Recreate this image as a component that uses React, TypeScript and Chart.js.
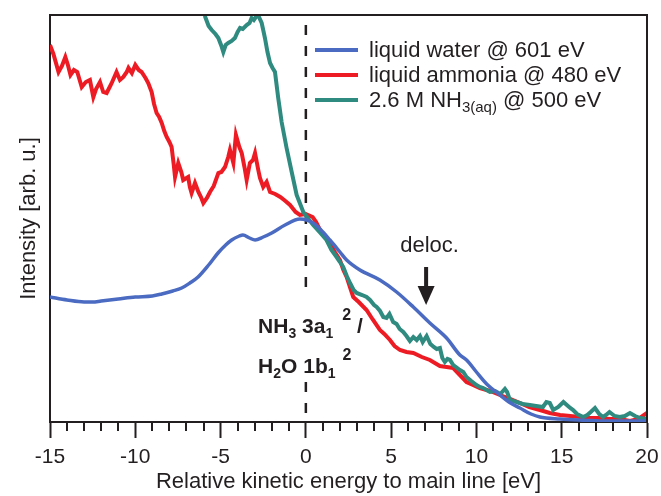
import React, { useEffect, useRef } from 'react';
import { Chart, registerables } from 'chart.js';

Chart.register(...registerables);

const FAMILY = "'Liberation Sans', Arial, Helvetica, sans-serif";
const INK = '#231f20';
const BLUE = '#4a6bc1';
const RED = '#ed1c24';
const TEAL = '#2f8a80';

// liquid water @ 601 eV
const waterX = [-15, -14, -13, -12.5, -12, -11, -10, -9, -8.45, -7.8, -7.28, -6.8, -6.32, -5.7, -5.15, -4.7, -4.35, -3.9, -3.69, -3.3, -2.98, -2.5, -2.0, -1.22, -0.35, 0.43, 1.0, 1.41, 2.0, 2.39, 3.17, 4.34, 5.32, 6.3, 7.27, 8.25, 9.03, 9.42, 10.0, 10.6, 11.38, 12.0, 12.55, 13.2, 13.72, 14.9, 16, 18, 20];
const waterY = [125, 122, 120, 120, 121, 123, 125, 126, 128, 131, 134, 139, 145, 157, 169, 177, 182, 186, 187, 184, 182, 185, 189, 197, 203, 199, 190, 182, 170, 162, 152, 142, 130, 115, 99, 84, 67, 62, 50, 38, 27, 19, 14, 8, 5, 3, 2, 1, 1];

// liquid ammonia @ 480 eV
const ammoniaX = [-15, -14.8, -14.5, -14.3, -14.1, -13.95, -13.8, -13.6, -13.4, -13.14, -12.9, -12.66, -12.46, -12.3, -12.07, -11.88, -11.68, -11.5, -11.38, -11.1, -10.9, -10.7, -10.5, -10.4, -10.2, -10.0, -9.8, -9.63, -9.4, -9.24, -9.04, -8.9, -8.75, -8.6, -8.45, -8.3, -8.16, -8.0, -7.87, -7.75, -7.67, -7.48, -7.3, -7.19, -6.9, -6.8, -6.7, -6.5, -6.3, -6.15, -6.01, -5.8, -5.62, -5.4, -5.13, -4.95, -4.74, -4.55, -4.45, -4.25, -4.1, -3.9, -3.76, -3.6, -3.47, -3.28, -3.1, -2.98, -2.79, -2.69, -2.5, -2.3, -2.1, -1.8, -1.5, -1.2, -0.93, -0.6, -0.35, 0.0, 0.4, 0.6, 0.83, 1.1, 1.41, 1.7, 2.0, 2.2, 2.39, 2.6, 2.78, 3.1, 3.56, 3.9, 4.34, 4.6, 4.93, 5.2, 5.52, 5.9, 6.3, 6.8, 7.27, 7.86, 8.25, 8.64, 9.03, 9.42, 9.8, 10.2, 10.8, 11.38, 12.0, 12.55, 13.1, 13.72, 14.3, 14.9, 15.5, 16.07, 16.6, 17.24, 17.8, 18.4, 19.0, 19.5, 20.0];
const ammoniaY = [377, 368, 350, 356, 365, 357, 347, 352, 350, 335, 340, 342, 325, 333, 340, 330, 329, 335, 339, 350, 342, 345, 350, 354, 349, 357, 352, 350, 344, 339, 330, 318, 309, 305, 299, 291, 285, 280, 275, 258, 245, 259, 250, 242, 245, 235, 229, 239, 230, 225, 219, 224, 230, 236, 249, 250, 255, 265, 272, 259, 287, 275, 269, 255, 242, 259, 262, 269, 252, 244, 235, 240, 230, 228, 225, 221, 217, 210, 207, 208, 205, 200, 192, 186, 179, 170, 162, 152, 145, 134, 125, 120, 112, 103, 92, 88, 82, 76, 72, 70, 69, 65, 62, 56, 55, 54, 47, 40, 37, 34, 31, 27, 23, 19, 15, 12, 9, 7, 6, 5, 4, 4, 3, 3, 1, 3, 9];

// 2.6 M NH3(aq) @ 500 eV
const aqX = [-6.0, -5.9, -5.7, -5.52, -5.3, -5.13, -4.95, -4.84, -4.7, -4.55, -4.35, -4.16, -4.0, -3.86, -3.7, -3.47, -3.3, -3.18, -3.05, -2.89, -2.75, -2.59, -2.5, -2.4, -2.25, -2.1, -1.95, -1.81, -1.62, -1.42, -1.13, -0.83, -0.54, -0.15, 0.2, 0.43, 0.8, 1.21, 1.5, 1.8, 2.0, 2.19, 2.4, 2.59, 2.8, 2.98, 3.3, 3.56, 3.76, 4.0, 4.15, 4.35, 4.54, 4.73, 4.9, 5.12, 5.32, 5.5, 5.71, 5.9, 6.1, 6.3, 6.5, 6.69, 6.85, 7.08, 7.3, 7.5, 7.67, 7.86, 8.0, 8.15, 8.3, 8.45, 8.64, 8.8, 9.03, 9.23, 9.42, 9.7, 10.0, 10.2, 10.4, 10.79, 11.1, 11.4, 11.67, 11.8, 11.96, 12.36, 12.7, 13.13, 13.5, 13.9, 14.1, 14.3, 14.5, 14.8, 15.1, 15.3, 15.5, 15.67, 15.9, 16.26, 16.5, 16.7, 16.95, 17.2, 17.43, 17.6, 17.8, 18.1, 18.4, 18.7, 19.0, 19.3, 19.6, 20.0];
const aqY = [420, 405, 396, 392, 388, 384, 376, 370, 377, 379, 381, 384, 390, 394, 393, 397, 399, 404, 402, 406, 405, 399, 392, 384, 370, 359, 354, 350, 324, 300, 274, 250, 227, 210, 202, 197, 190, 182, 172, 165, 160, 155, 146, 139, 132, 129, 127, 125, 122, 117, 115, 111, 105, 104, 108, 100, 98, 93, 90, 86, 81, 85, 82, 86, 80, 86, 78, 75, 73, 74, 64, 60, 63, 62, 57, 55, 52, 50, 45, 41, 37, 35, 34, 30, 31, 28, 33, 30, 22, 20, 18, 17, 16, 15, 20, 19, 12, 15, 20, 17, 14, 12, 8, 5, 7, 10, 14, 8, 5, 7, 10, 6, 5, 6, 9, 6, 4, 3];

const X_MIN = -15;
const X_MAX = 20;
const MAJOR_STEP = 5;
const Y_MAX = 407;

const pts = (xs: number[], ys: number[]) => xs.map((x, i) => ({ x, y: ys[i] }));

type Seg = { t: string; size: number; dy?: number; dx?: number; bold?: boolean };

function drawRich(ctx: CanvasRenderingContext2D, x: number, y: number, segs: Seg[]) {
  let cx = x;
  for (const s of segs) {
    cx += s.dx ?? 0;
    ctx.font = `${s.bold ? 'bold ' : ''}${s.size}px ${FAMILY}`;
    ctx.fillText(s.t, cx, y + (s.dy ?? 0));
    cx += ctx.measureText(s.t).width;
  }
}

const legendItems: { color: string; segs: Seg[] }[] = [
  { color: BLUE, segs: [{ t: 'liquid water @ 601 eV', size: 22 }] },
  { color: RED, segs: [{ t: 'liquid ammonia @ 480 eV', size: 22 }] },
  {
    color: TEAL,
    segs: [
      { t: '2.6 M NH', size: 22 },
      { t: '3(aq)', size: 15, dy: 5 },
      { t: ' @ 500 eV', size: 22 },
    ],
  },
];

const overlayPlugin = {
  id: 'overlay',
  beforeDatasetsDraw(chart: any) {
    const { ctx, chartArea: a, scales } = chart;
    const x = scales.x;
    const y = scales.y;
    ctx.save();
    // dashed reference line at main line (0 eV), interrupted by the label
    ctx.strokeStyle = INK;
    ctx.lineWidth = 2.5;
    ctx.setLineDash([10, 11]);
    const px = x.getPixelForValue(0);
    ctx.beginPath();
    ctx.moveTo(px, y.getPixelForValue(397));
    ctx.lineTo(px, y.getPixelForValue(130));
    ctx.stroke();
    ctx.beginPath();
    ctx.moveTo(px, y.getPixelForValue(40));
    ctx.lineTo(px, a.bottom);
    ctx.stroke();
    ctx.restore();
  },
  afterDatasetsDraw(chart: any) {
    const { ctx, chartArea: a, scales } = chart;
    const x = scales.x;
    const y = scales.y;
    ctx.save();
    // frame top and right
    ctx.strokeStyle = INK;
    ctx.lineWidth = 2;
    ctx.setLineDash([]);
    ctx.beginPath();
    ctx.moveTo(a.left - 1, a.top);
    ctx.lineTo(a.right, a.top);
    ctx.lineTo(a.right, a.bottom);
    ctx.stroke();
    // minor ticks
    ctx.beginPath();
    for (let v = X_MIN; v <= X_MAX; v++) {
      if (v % MAJOR_STEP === 0) continue;
      const p = Math.round(x.getPixelForValue(v));
      ctx.moveTo(p, a.bottom);
      ctx.lineTo(p, a.bottom + 9);
    }
    ctx.stroke();

    // legend
    const lx0 = 315;
    const lx1 = 358;
    legendItems.forEach((it, i) => {
      const ly = 50 + i * 25;
      ctx.strokeStyle = it.color;
      ctx.lineWidth = 4;
      ctx.beginPath();
      ctx.moveTo(lx0, ly);
      ctx.lineTo(lx1, ly);
      ctx.stroke();
      ctx.fillStyle = INK;
      ctx.textAlign = 'left';
      ctx.textBaseline = 'alphabetic';
      drawRich(ctx, 369, ly + 7, it.segs);
    });

    // deloc. annotation with arrow
    const ax = x.getPixelForValue(7.05);
    ctx.fillStyle = INK;
    ctx.textAlign = 'center';
    ctx.textBaseline = 'alphabetic';
    ctx.font = `22px ${FAMILY}`;
    ctx.fillText('deloc.', x.getPixelForValue(7.25), y.getPixelForValue(170));
    const yTop = y.getPixelForValue(155);
    const yHead = y.getPixelForValue(136);
    const yTip = y.getPixelForValue(117);
    ctx.fillRect(ax - 2, yTop, 4, yHead - yTop + 1);
    ctx.beginPath();
    ctx.moveTo(ax - 8.5, yHead);
    ctx.lineTo(ax + 8.5, yHead);
    ctx.lineTo(ax, yTip);
    ctx.closePath();
    ctx.fill();

    // orbital labels
    ctx.textAlign = 'left';
    const tx = x.getPixelForValue(-2.8);
    drawRich(ctx, tx, y.getPixelForValue(89), [
      { t: 'NH', size: 21, bold: true },
      { t: '3', size: 14, bold: true, dy: 5 },
      { t: ' 3a', size: 21, bold: true },
      { t: '1', size: 14, bold: true, dy: 5 },
      { t: '2', size: 16, bold: true, dy: -13, dx: 9 },
      { t: ' /', size: 21, bold: true },
    ]);
    drawRich(ctx, tx, y.getPixelForValue(49), [
      { t: 'H', size: 21, bold: true },
      { t: '2', size: 14, bold: true, dy: 5 },
      { t: 'O 1b', size: 21, bold: true },
      { t: '1', size: 14, bold: true, dy: 5 },
      { t: '2', size: 16, bold: true, dy: -13, dx: 7 },
    ]);
    ctx.restore();
  },
};

export default function App() {
  const ref = useRef<HTMLCanvasElement | null>(null);

  useEffect(() => {
    if (!ref.current) return;
    const chart = new Chart(ref.current, {
      type: 'scatter',
      data: {
        datasets: [
          {
            label: 'liquid water @ 601 eV',
            data: pts(waterX, waterY),
            showLine: true,
            borderColor: BLUE,
            backgroundColor: BLUE,
            borderWidth: 3.5,
            pointRadius: 0,
            cubicInterpolationMode: 'monotone',
          },
          {
            label: '2.6 M NH3(aq) @ 500 eV',
            data: pts(aqX, aqY),
            showLine: true,
            borderColor: TEAL,
            backgroundColor: TEAL,
            borderWidth: 4,
            pointRadius: 0,
            tension: 0,
          },
          {
            label: 'liquid ammonia @ 480 eV',
            data: pts(ammoniaX, ammoniaY),
            showLine: true,
            borderColor: RED,
            backgroundColor: RED,
            borderWidth: 4,
            pointRadius: 0,
            tension: 0,
          },
        ],
      },
      options: {
        animation: false,
        responsive: false,
        layout: { padding: { top: 15, right: 14, left: 0, bottom: 0 } },
        plugins: {
          legend: { display: false },
          tooltip: { enabled: false },
        },
        scales: {
          x: {
            type: 'linear',
            min: X_MIN,
            max: X_MAX,
            afterFit: (s: any) => {
              s.height = 74;
              s.paddingLeft = 0;
              s.paddingRight = 0;
            },
            afterBuildTicks: (s: any) => {
              const t = [];
              for (let v = X_MIN; v <= X_MAX; v += MAJOR_STEP) t.push({ value: v });
              s.ticks = t;
            },
            ticks: {
              autoSkip: false,
              maxRotation: 0,
              padding: 7,
              color: INK,
              font: { family: FAMILY, size: 21 },
              callback: (v: any) => String(v),
            },
            grid: {
              drawOnChartArea: false,
              drawTicks: true,
              tickLength: 16,
              tickWidth: 2,
              tickColor: INK,
            },
            border: { display: true, color: INK, width: 2 },
            title: {
              display: true,
              text: 'Relative kinetic energy to main line [eV]',
              color: INK,
              font: { family: FAMILY, size: 22 },
              padding: { top: 0, bottom: 1 },
            },
          },
          y: {
            type: 'linear',
            min: 0,
            max: Y_MAX,
            afterFit: (s: any) => {
              s.width = 50;
              s.paddingTop = 0;
              s.paddingBottom = 0;
            },
            ticks: { display: false },
            grid: { display: false, drawTicks: false },
            border: { display: true, color: INK, width: 2 },
            title: {
              display: true,
              text: 'Intensity [arb. u.]',
              color: INK,
              font: { family: FAMILY, size: 22 },
              padding: { top: 16, bottom: 0 },
            },
          },
        },
      },
      plugins: [overlayPlugin],
    } as any);
    return () => chart.destroy();
  }, []);

  return (
    <div style={{ position: 'absolute', left: 0, top: 0, width: 661, height: 496, background: '#fff' }}>
      <canvas ref={ref} width={661} height={496} />
    </div>
  );
}
